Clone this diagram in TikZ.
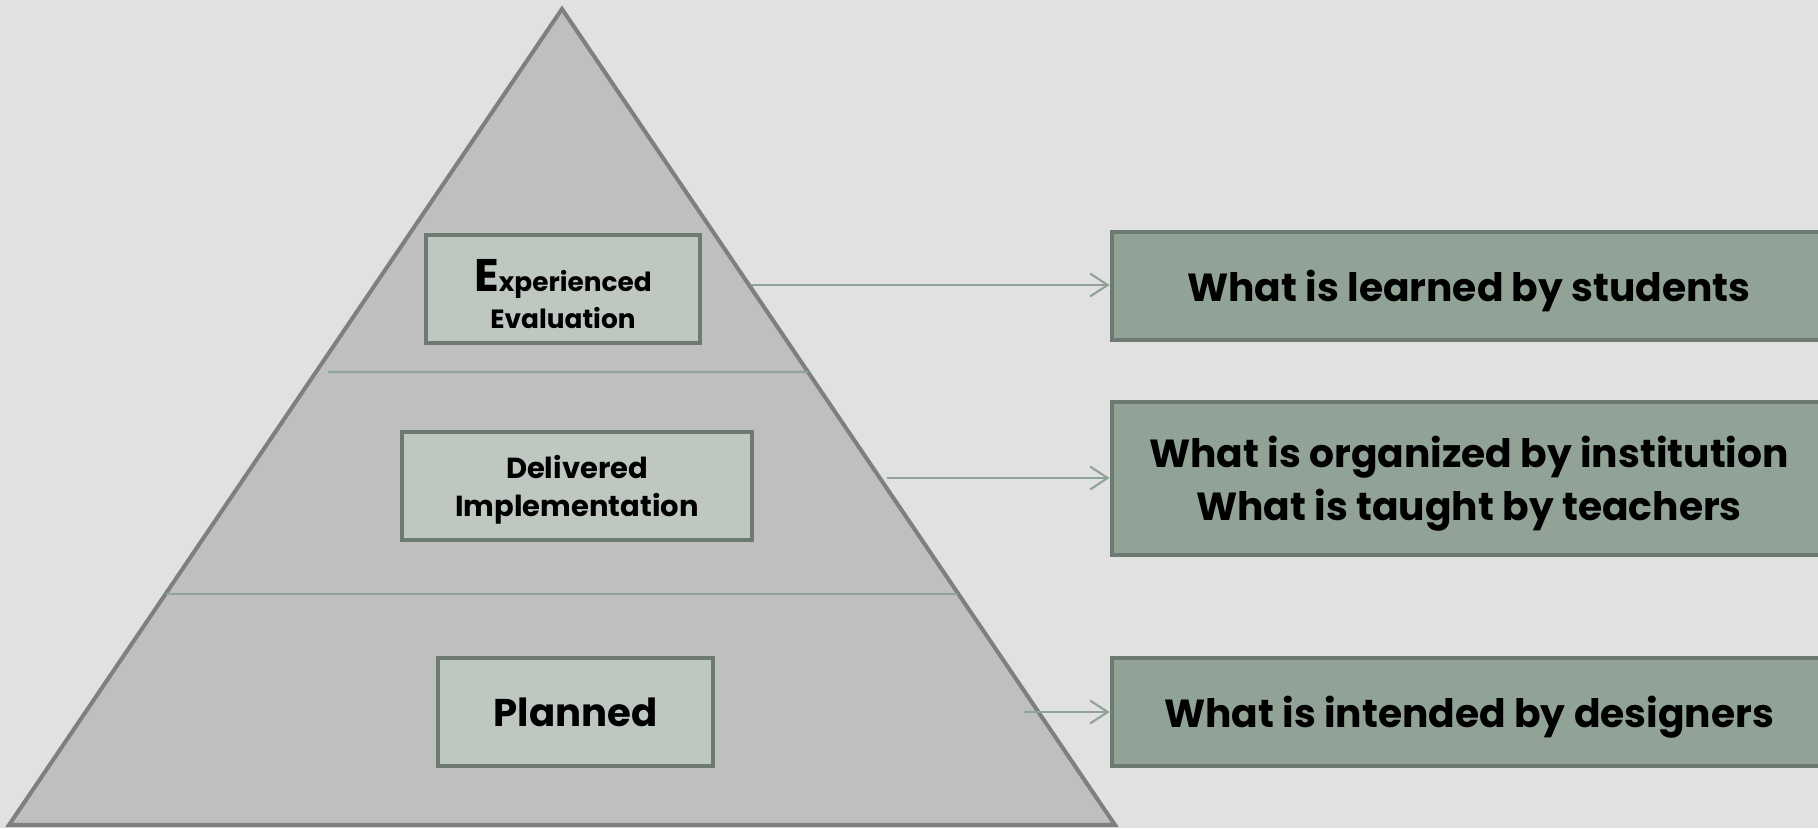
\documentclass[tikz,border=0pt]{standalone}
\usepackage{fontspec}
\setmainfont{Poppins}
\usetikzlibrary{arrows.meta,positioning,calc}

\definecolor{backgr}{HTML}{E1E1E1}
\definecolor{pyrfill}{HTML}{BFBFBF}
\definecolor{pyrline}{HTML}{7F7F7F}
\definecolor{levelfill}{HTML}{BEC8C1}
\definecolor{boxline}{HTML}{6D7A71}
\definecolor{sage}{HTML}{91A396}
\definecolor{linkc}{HTML}{8FA397}

\begin{document}
\begin{tikzpicture}[x=0.02cm, y=-0.02cm,
    level/.style={draw=boxline, line width=2.2pt, fill=levelfill, minimum height=2.16cm,
                  inner sep=0pt, align=center, font=\bfseries},
    what/.style={draw=boxline, line width=2.2pt, fill=sage, minimum width=14.3cm,
                 inner sep=0pt, text depth=0pt, align=center,
                 font=\fontsize{22.3}{30}\selectfont\bfseries},
    link/.style={draw=linkc, line width=1.2pt, -{Straight Barb[length=10pt,width=13pt]}},
    divider/.style={draw=linkc, line width=1.2pt}]
  % Background
  \useasboundingbox (0,0) rectangle (1818,828);
  \fill[backgr] (0,0) rectangle (1818,828);

  % Pyramid
  \coordinate (top) at (562,9);
  \coordinate (bl) at (9,825);
  \coordinate (br) at (1115,825);
  \filldraw[fill=pyrfill, draw=pyrline, line width=2.3pt, line join=miter] (top) -- (br) -- (bl) -- cycle;

  % Layer borders
  \draw[divider] (328,372) -- ($(top)!0.4449!(br)$);
  \draw[divider] ($(top)!0.7169!(bl)$) -- ($(top)!0.7169!(br)$);

  % Levels
  \node[level, minimum width=5.48cm] (exp) at (563,289)
       {\rule{0pt}{24pt}{\fontsize{26}{26}\selectfont E}{\fontsize{15}{18}\selectfont xperienced}\\[4pt]
        \fontsize{15}{18}\selectfont Evaluation};
  \node[level, minimum width=7cm, text depth=0pt, font=\fontsize{16.5}{22}\selectfont\bfseries] (del) at (577,486)
       {Delivered\\Implementation};
  \node[level, minimum width=5.5cm, font=\fontsize{22}{26}\selectfont\bfseries] (plan) at (575.5,712)
       {Planned};

  % Descriptions
  \node[what, minimum height=2.16cm] (learn) at (1469,286) {What is learned by students};
  \node[what, minimum height=3.06cm] (teach) at (1469,478.5)
       {What is organized by institution\\What is taught by teachers};
  \node[what, minimum height=2.16cm] (intend) at (1469,712) {What is intended by designers};

  % Arrows
  \coordinate (a1) at (751,285);
  \coordinate (a2) at (887,478);
  \coordinate (a3) at (1024,712);
  \draw[link] (a1) -- (learn.west |- a1);
  \draw[link] (a2) -- (teach.west |- a2);
  \draw[link] (a3) -- (intend.west |- a3);
\end{tikzpicture}
\end{document}
